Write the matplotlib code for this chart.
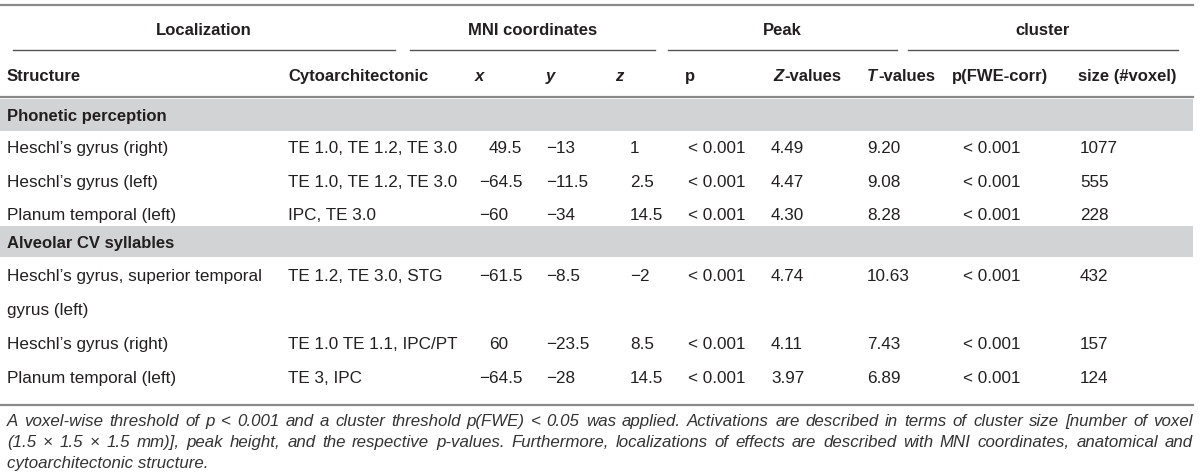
import matplotlib.pyplot as plt
from matplotlib.patches import Rectangle

plt.rcParams['font.family'] = ['Liberation Sans', 'DejaVu Sans']

MINUS = '\u2212'

groups = ['Localization', 'MNI coordinates', 'Peak', 'cluster']
headers = ['Structure', 'Cytoarchitectonic', 'x', 'y', 'z', 'p',
           'Z-values', 'T-values', 'p(FWE-corr)', 'size (#voxel)']
sections = ['Phonetic perception', 'Alveolar CV syllables']

structures = [
    ["Heschl\u2019s gyrus (right)", "Heschl\u2019s gyrus (left)", "Planum temporal (left)"],
    ["Heschl\u2019s gyrus, superior temporal\ngyrus (left)", "Heschl\u2019s gyrus (right)",
     "Planum temporal (left)"],
]
cytos = [
    ["TE 1.0, TE 1.2, TE 3.0", "TE 1.0, TE 1.2, TE 3.0", "IPC, TE 3.0"],
    ["TE 1.2, TE 3.0, STG", "TE 1.0 TE 1.1, IPC/PT", "TE 3, IPC"],
]
x_mni = [["49.5", "-64.5", "-60"], ["-61.5", "60", "-64.5"]]
y_mni = [["-13", "-11.5", "-34"], ["-8.5", "-23.5", "-28"]]
z_mni = [["1", "2.5", "14.5"], ["-2", "8.5", "14.5"]]
p_peak = [["< 0.001"] * 3, ["< 0.001"] * 3]
z_vals = [["4.49", "4.47", "4.30"], ["4.74", "4.11", "3.97"]]
t_vals = [["9.20", "9.08", "8.28"], ["10.63", "7.43", "6.89"]]
p_fwe = [["< 0.001"] * 3, ["< 0.001"] * 3]
sizes = [["1077", "555", "228"], ["432", "157", "124"]]

caption = ["A voxel-wise threshold of p < 0.001 and a cluster threshold p(FWE) < 0.05 was applied. "
           "Activations are described in terms of cluster size [number of voxel",
           "(1.5 \u00d7 1.5 \u00d7 1.5 mm)], peak height, and the respective p-values. "
           "Furthermore, localizations of effects are described with MNI coordinates, anatomical and",
           "cytoarchitectonic structure."]

txt = '#231f20'
rule = '#8a8a8a'
band = '#d1d3d4'
fs = 12.3
hfs = 12.0
cfs = 12.2
bl = 6  # baseline offset below the row centre

fig = plt.figure(figsize=(12, 4.73), dpi=100)
ax = fig.add_axes([0, 0, 1, 1])
ax.set_xlim(0, 1200)
ax.set_ylim(473, 0)
ax.axis('off')
fig.canvas.draw()
renderer = fig.canvas.get_renderer()


def width(t):
    return t.get_window_extent(renderer).width


def cell(x, y, s, **kw):
    return ax.text(x, y + bl, s, va='baseline', fontsize=fs, color=txt, **kw)


def head(x, y, s, **kw):
    return ax.text(x, y + bl, s, va='baseline', fontsize=hfs, color=txt,
                   fontweight='bold', **kw)


def dec_cell(xd, y, s):
    # decimal-aligned number: integer part ends at xd
    s = s.replace('-', MINUS)
    frac = s.partition('.')[2]
    shift = 0
    if frac:
        probe = cell(0, y, '.' + frac, ha='left')
        shift = width(probe)
        probe.remove()
    cell(xd + shift, y, s, ha='right')


# rules
ax.plot([0, 1193], [5, 5], color=rule, lw=1.6)
ax.plot([0, 1193], [97, 97], color=rule, lw=1.6)
ax.plot([0, 1193], [405, 405], color=rule, lw=1.6)
spans = [(13, 395), (410, 655), (668, 897), (908, 1178)]
for (a, b), g in zip(spans, groups):
    ax.plot([a, b], [50, 50], color='#555555', lw=1.0)
    head((a + b) / 2, 29, g, ha='center')

# column headers
col_x = [7, 288, 475, 546, 615, 685, 773, 867, 952, 1078]
for cx, h in zip(col_x, headers):
    if h in ('x', 'y', 'z'):
        head(cx, 75, h, ha='left', style='italic')
    elif h.endswith('-values'):
        t = head(cx, 75, h[0], ha='left', style='italic')
        head(cx + width(t) + 1, 75, h[1:], ha='left')
    else:
        head(cx, 75, h, ha='left')

band_y = [(99, 131), (226, 257)]
row_y = [[147, 181, 214], [275, 343, 377]]

for s in range(2):
    y0, y1 = band_y[s]
    ax.add_patch(Rectangle((0, y0), 1193, y1 - y0, color=band, lw=0))
    head(7, (y0 + y1) / 2, sections[s], ha='left')
    for r in range(3):
        yy = row_y[s][r]
        for k, ln in enumerate(structures[s][r].split('\n')):
            cell(7, yy + 34 * k, ln, ha='left')
        cell(288, yy, cytos[s][r], ha='left')
        dec_cell(508, yy, x_mni[s][r])
        cell(546, yy, y_mni[s][r].replace('-', MINUS), ha='left')
        cell(630, yy, z_mni[s][r].replace('-', MINUS), ha='left')
        cell(688, yy, p_peak[s][r], ha='left')
        cell(771, yy, z_vals[s][r], ha='left')
        cell(867, yy, t_vals[s][r], ha='left')
        cell(963, yy, p_fwe[s][r], ha='left')
        cell(1080, yy, sizes[s][r], ha='left')

# caption, justified except for the last line
left, right = 7, 1193
for k, ln in enumerate(caption):
    yy = 421 + 21 * k + 5
    if k == len(caption) - 1:
        ax.text(left, yy, ln, ha='left', va='baseline', fontsize=cfs,
                style='italic', color='#333333')
        continue
    words = ln.split(' ')
    arts = [ax.text(0, yy, w, ha='left', va='baseline', fontsize=cfs,
                    style='italic', color='#333333') for w in words]
    ws = [width(a) for a in arts]
    gap = (right - left - sum(ws)) / (len(words) - 1)
    xpos = left
    for a, w in zip(arts, ws):
        a.set_x(xpos)
        xpos += w + gap

fig.savefig('out.png', dpi=100)
